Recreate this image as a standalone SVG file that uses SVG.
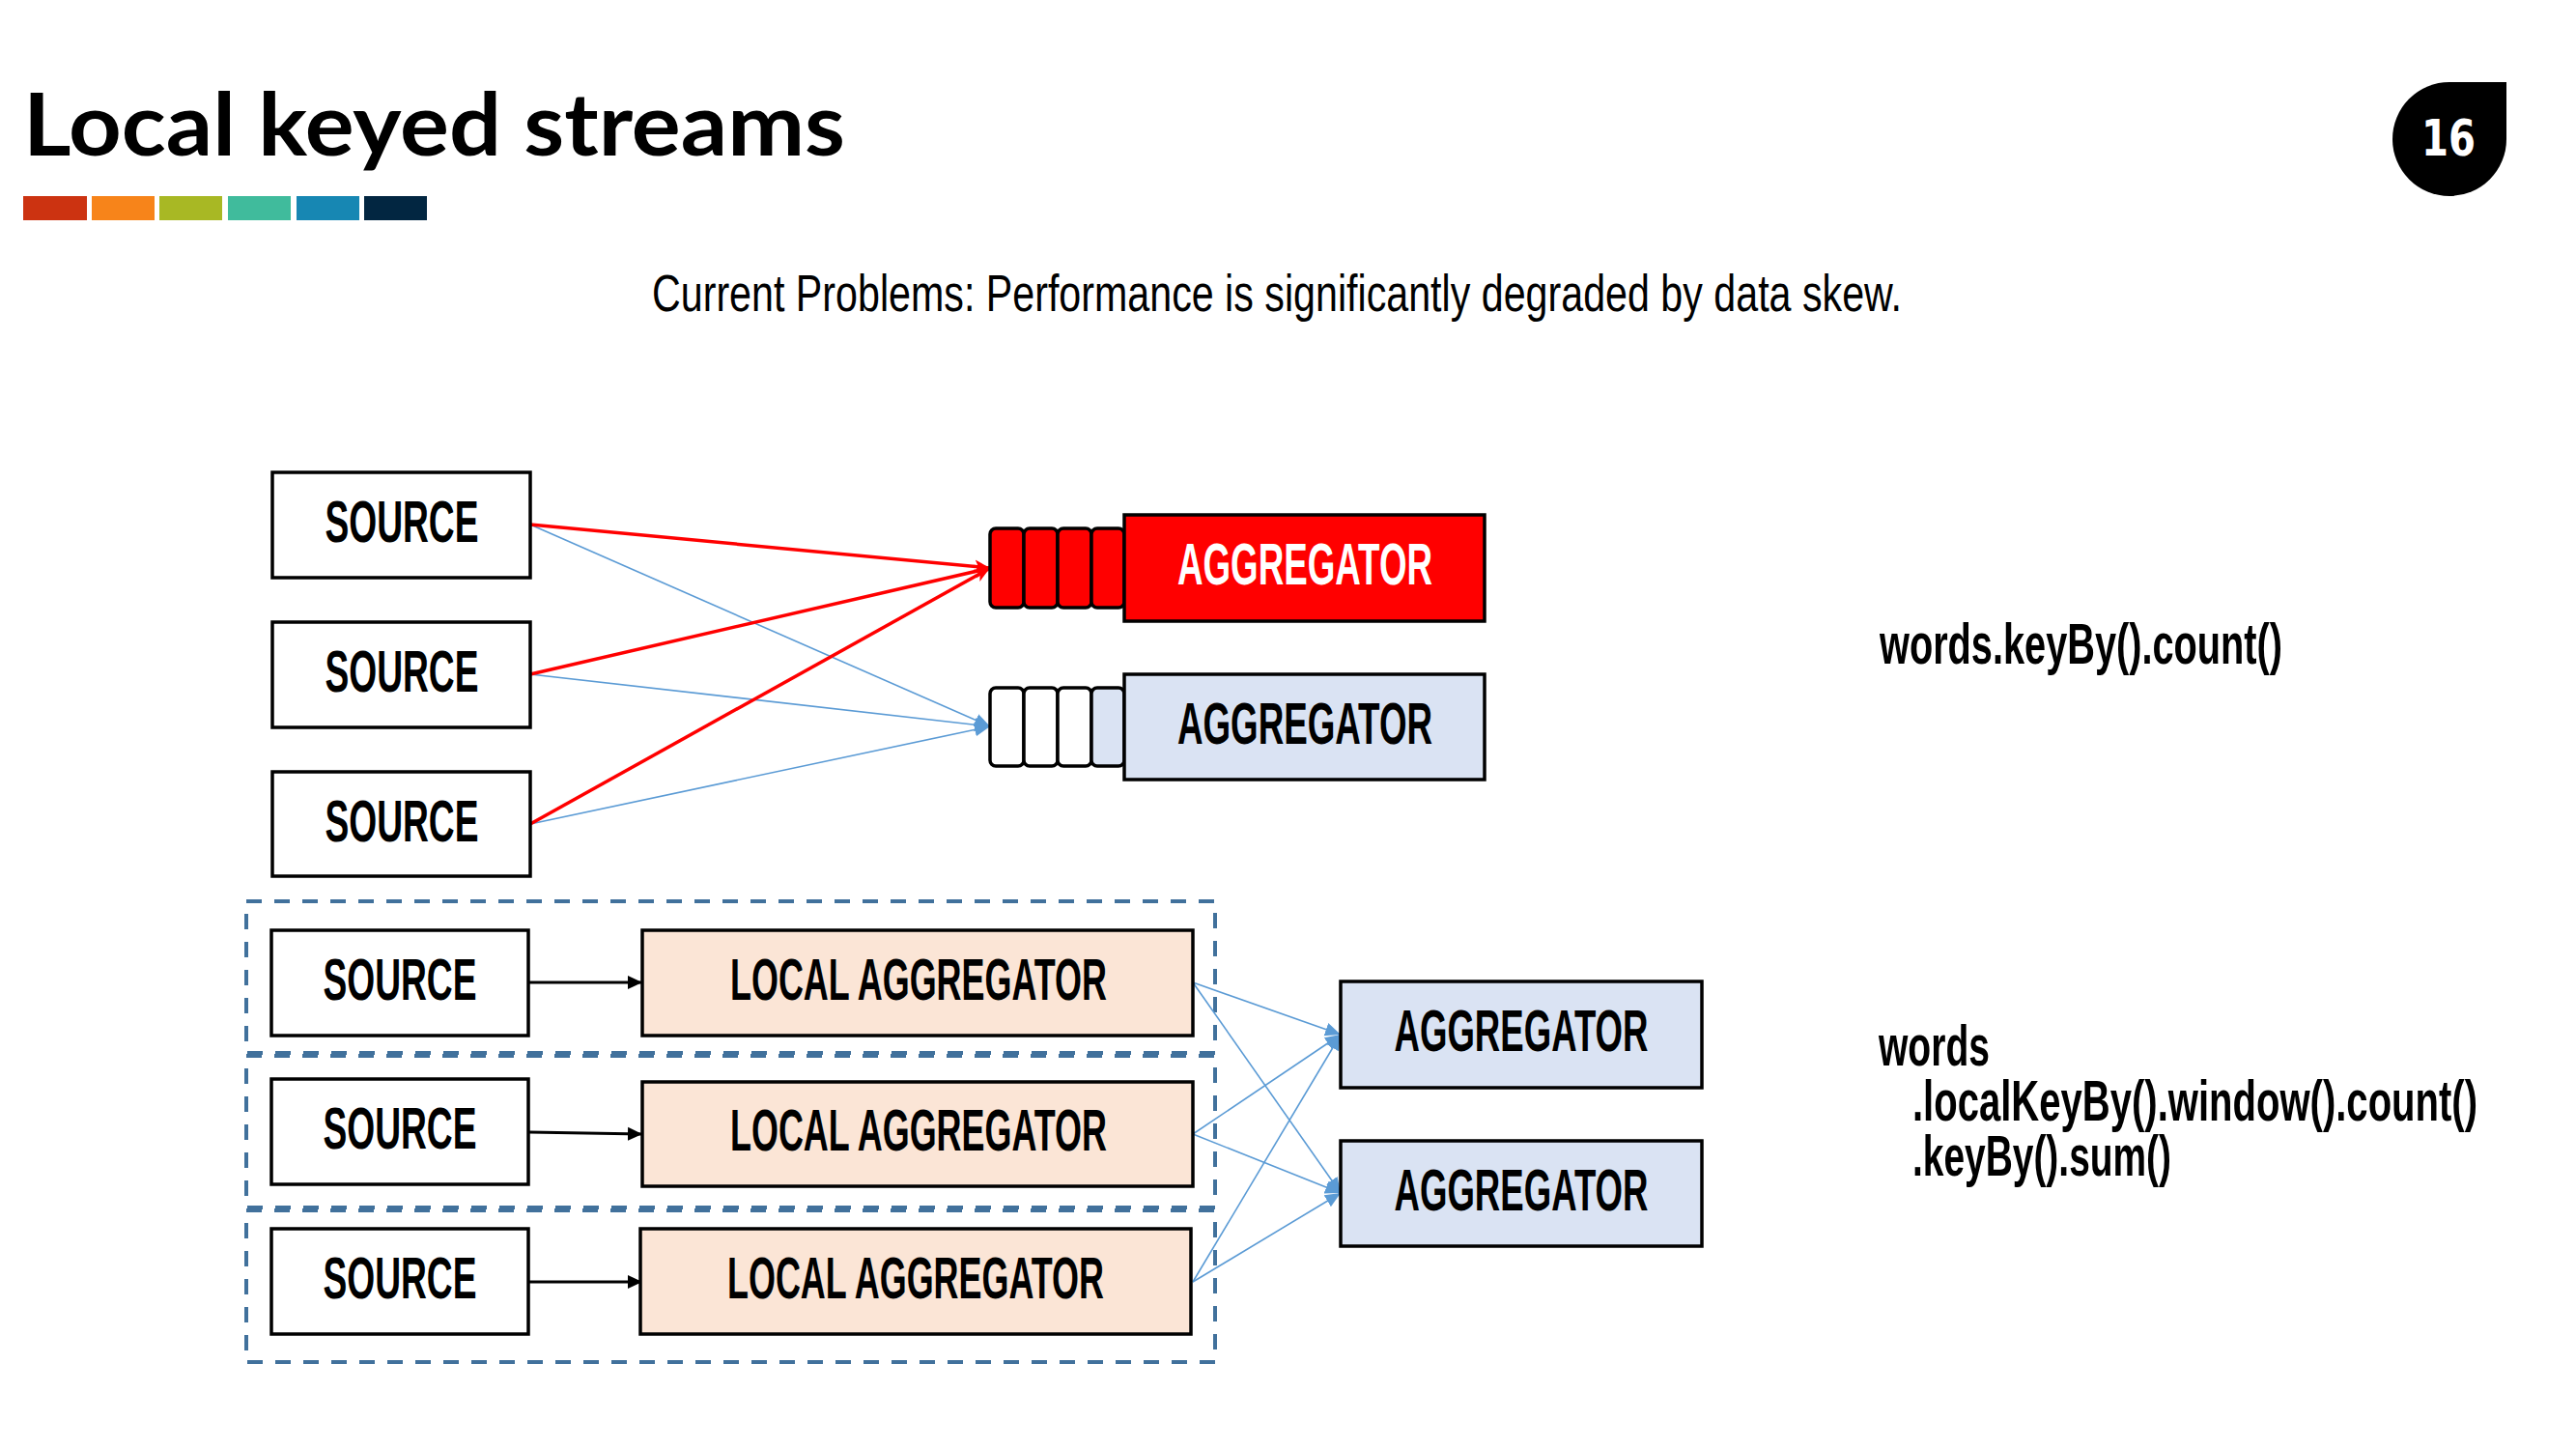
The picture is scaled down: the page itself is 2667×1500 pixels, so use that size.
<svg xmlns="http://www.w3.org/2000/svg" width="2667" height="1500" viewBox="0 0 2667 1500">
<style>
.box{stroke:#000;stroke-width:3.5}
.src{fill:#fff}
.lbl{font-family:"Liberation Sans",Arial,sans-serif;font-weight:bold;font-size:61px;fill:#000}
.code{font-family:"Liberation Sans",Arial,sans-serif;font-weight:bold;font-size:60px;fill:#000}
.cell{stroke:#000;stroke-width:3.5}
.dash{fill:none;stroke:#41719C;stroke-width:4;stroke-dasharray:16 13}
.red{stroke:#FF0000;stroke-width:3.5;fill:none}
.blue{stroke:#5B9BD5;stroke-width:1.6;fill:none}
.blk{stroke:#000;stroke-width:3;fill:none}
</style>
<defs>
<marker id="ar" markerUnits="userSpaceOnUse" markerWidth="18" markerHeight="16" refX="16" refY="8" orient="auto"><path d="M0,1 L16,8 L0,15 L4,8 Z" fill="#FF0000"/></marker>
<marker id="ab" markerUnits="userSpaceOnUse" markerWidth="18" markerHeight="16" refX="16" refY="8" orient="auto"><path d="M0,1 L16,8 L0,15 Z" fill="#5B9BD5"/></marker>
<marker id="ak" markerUnits="userSpaceOnUse" markerWidth="16" markerHeight="16" refX="15" refY="8" orient="auto"><path d="M0,1 L15,8 L0,15 Z" fill="#000"/></marker>
</defs>
<rect width="2667" height="1500" fill="#fff"/>
<g id="header">
<text x="24" y="161" font-family="Lato,'Liberation Sans',sans-serif" font-weight="bold" font-size="90" textLength="851" lengthAdjust="spacingAndGlyphs" fill="#000">Local keyed streams</text>
<rect x="24" y="203" width="66" height="25" fill="#CC3311"/>
<rect x="95" y="203" width="65" height="25" fill="#F7841A"/>
<rect x="165" y="203" width="65" height="25" fill="#A8B824"/>
<rect x="236" y="203" width="65" height="25" fill="#40BB9C"/>
<rect x="307" y="203" width="65" height="25" fill="#1787B3"/>
<rect x="377" y="203" width="65" height="25" fill="#022641"/>
<path d="M2595,85 L2595,144 A59,59 0 0 1 2536,203 A59,59 0 0 1 2477,144 A59,59 0 0 1 2536,85 Z" fill="#000"/>
<text x="2535" y="161" text-anchor="middle" font-family="'DejaVu Sans',sans-serif" font-weight="bold" font-size="52" textLength="56" lengthAdjust="spacingAndGlyphs" fill="#fff">16</text>
<text x="675" y="322" font-family="'Liberation Sans',Arial,sans-serif" font-size="54" textLength="1294" lengthAdjust="spacingAndGlyphs" fill="#000">Current Problems: Performance is significantly degraded by data skew.</text>
</g>
<g id="dashed-groups">
<rect class="dash" x="255" y="933" width="1003" height="157"/>
<rect class="dash" x="255" y="1093" width="1003" height="157"/>
<rect class="dash" x="255" y="1253" width="1003" height="157"/>
</g>
<g id="connectors">
<line class="blue" x1="549" y1="543" x2="1025" y2="752" marker-end="url(#ab)"/>
<line class="blue" x1="549" y1="698" x2="1025" y2="752" marker-end="url(#ab)"/>
<line class="blue" x1="549" y1="853" x2="1025" y2="752" marker-end="url(#ab)"/>
<line class="red" x1="549" y1="543" x2="1025" y2="588" marker-end="url(#ar)"/>
<line class="red" x1="549" y1="698" x2="1025" y2="588" marker-end="url(#ar)"/>
<line class="red" x1="549" y1="853" x2="1025" y2="588" marker-end="url(#ar)"/>
<line class="blk" x1="548" y1="1017" x2="665" y2="1017" marker-end="url(#ak)"/>
<line class="blk" x1="548" y1="1172" x2="665" y2="1174" marker-end="url(#ak)"/>
<line class="blk" x1="548" y1="1327" x2="665" y2="1327" marker-end="url(#ak)"/>
<line class="blue" x1="1235" y1="1017" x2="1388" y2="1071" marker-end="url(#ab)"/>
<line class="blue" x1="1235" y1="1017" x2="1388" y2="1235" marker-end="url(#ab)"/>
<line class="blue" x1="1235" y1="1174" x2="1388" y2="1071" marker-end="url(#ab)"/>
<line class="blue" x1="1235" y1="1174" x2="1388" y2="1235" marker-end="url(#ab)"/>
<line class="blue" x1="1235" y1="1327" x2="1388" y2="1071" marker-end="url(#ab)"/>
<line class="blue" x1="1235" y1="1327" x2="1388" y2="1235" marker-end="url(#ab)"/>
</g>
<g id="source-1"><rect class="box src" x="282" y="489" width="267" height="109"/><text class="lbl" x="416" y="561" text-anchor="middle" textLength="159" lengthAdjust="spacingAndGlyphs">SOURCE</text></g>
<g id="source-2"><rect class="box src" x="282" y="644" width="267" height="109"/><text class="lbl" x="416" y="716" text-anchor="middle" textLength="159" lengthAdjust="spacingAndGlyphs">SOURCE</text></g>
<g id="source-3"><rect class="box src" x="282" y="799" width="267" height="108"/><text class="lbl" x="416" y="871" text-anchor="middle" textLength="159" lengthAdjust="spacingAndGlyphs">SOURCE</text></g>
<g id="aggregator-hot">
<rect class="cell" x="1025" y="547" width="35" height="82" rx="6" fill="#FF0000"/>
<rect class="cell" x="1060" y="547" width="35" height="82" rx="6" fill="#FF0000"/>
<rect class="cell" x="1095" y="547" width="35" height="82" rx="6" fill="#FF0000"/>
<rect class="cell" x="1130" y="547" width="34" height="82" rx="6" fill="#FF0000"/>
<rect class="box" x="1164" y="533" width="373" height="110" fill="#FF0000"/>
<text class="lbl" x="1351" y="605" text-anchor="middle" textLength="264" lengthAdjust="spacingAndGlyphs" font-size="60" fill="#fff" style="fill:#fff">AGGREGATOR</text>
</g>
<g id="aggregator-normal">
<rect class="cell" x="1025" y="712" width="35" height="81" rx="6" fill="#fff"/>
<rect class="cell" x="1060" y="712" width="35" height="81" rx="6" fill="#fff"/>
<rect class="cell" x="1095" y="712" width="35" height="81" rx="6" fill="#fff"/>
<rect class="cell" x="1130" y="712" width="34" height="81" rx="6" fill="#DAE3F3"/>
<rect class="box" x="1164" y="698" width="373" height="109" fill="#DAE3F3"/>
<text class="lbl" x="1351" y="770" text-anchor="middle" textLength="264" lengthAdjust="spacingAndGlyphs" font-size="60">AGGREGATOR</text>
</g>
<g id="source-4"><rect class="box src" x="281" y="963" width="266" height="109"/><text class="lbl" x="414" y="1035" text-anchor="middle" textLength="159" lengthAdjust="spacingAndGlyphs">SOURCE</text></g>
<g id="source-5"><rect class="box src" x="281" y="1117" width="266" height="109"/><text class="lbl" x="414" y="1189" text-anchor="middle" textLength="159" lengthAdjust="spacingAndGlyphs">SOURCE</text></g>
<g id="source-6"><rect class="box src" x="281" y="1272" width="266" height="109"/><text class="lbl" x="414" y="1344" text-anchor="middle" textLength="159" lengthAdjust="spacingAndGlyphs">SOURCE</text></g>
<g id="local-aggregator-1"><rect class="box" x="665" y="963" width="570" height="109" fill="#FBE5D6"/><text class="lbl" x="951" y="1035" text-anchor="middle" textLength="390" lengthAdjust="spacingAndGlyphs" font-size="60">LOCAL AGGREGATOR</text></g>
<g id="local-aggregator-2"><rect class="box" x="665" y="1120" width="570" height="108" fill="#FBE5D6"/><text class="lbl" x="951" y="1191" text-anchor="middle" textLength="390" lengthAdjust="spacingAndGlyphs" font-size="60">LOCAL AGGREGATOR</text></g>
<g id="local-aggregator-3"><rect class="box" x="663" y="1272" width="570" height="109" fill="#FBE5D6"/><text class="lbl" x="948" y="1344" text-anchor="middle" textLength="390" lengthAdjust="spacingAndGlyphs" font-size="60">LOCAL AGGREGATOR</text></g>
<g id="aggregator-a"><rect class="box" x="1388" y="1016" width="374" height="110" fill="#DAE3F3"/><text class="lbl" x="1575" y="1088" text-anchor="middle" textLength="263" lengthAdjust="spacingAndGlyphs" font-size="60">AGGREGATOR</text></g>
<g id="aggregator-b"><rect class="box" x="1388" y="1181" width="374" height="109" fill="#DAE3F3"/><text class="lbl" x="1575" y="1253" text-anchor="middle" textLength="263" lengthAdjust="spacingAndGlyphs" font-size="60">AGGREGATOR</text></g>
<g id="code">
<text class="code" x="1946" y="687" textLength="417" lengthAdjust="spacingAndGlyphs">words.keyBy().count()</text>
<text class="code" x="1945" y="1103" textLength="115" lengthAdjust="spacingAndGlyphs">words</text>
<text class="code" x="1980" y="1160" textLength="585" lengthAdjust="spacingAndGlyphs">.localKeyBy().window().count()</text>
<text class="code" x="1980" y="1217" textLength="268" lengthAdjust="spacingAndGlyphs">.keyBy().sum()</text>
</g>
</svg>
